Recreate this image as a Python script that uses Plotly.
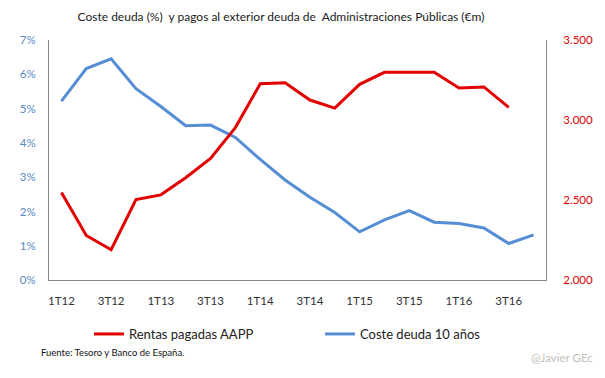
import plotly.graph_objects as go

quarters = ["1T12", "2T12", "3T12", "4T12", "1T13", "2T13", "3T13", "4T13",
            "1T14", "2T14", "3T14", "4T14", "1T15", "2T15", "3T15", "4T15",
            "1T16", "2T16", "3T16", "4T16"]
tick_labels = ["1T12", "3T12", "1T13", "3T13", "1T14", "3T14", "1T15", "3T15", "1T16", "3T16"]

rentas_aapp = [2548, 2279, 2190, 2504, 2533, 2640, 2761, 2953, 3227, 3233,
               3125, 3075, 3223, 3298, 3298, 3298, 3200, 3207, 3079]
coste_deuda_10 = [5.22, 6.17, 6.45, 5.58, 5.06, 4.50, 4.52, 4.16, 3.52, 2.92,
                  2.42, 1.97, 1.41, 1.76, 2.03, 1.69, 1.65, 1.52, 1.07, 1.32]

left_ticks = [0, 1, 2, 3, 4, 5, 6, 7]
left_tick_text = ["0%", "1%", "2%", "3%", "4%", "5%", "6%", "7%"]
right_ticks = [2000, 2500, 3000, 3500]
right_tick_text = ["2.000", "2.500", "3.000", "3.500"]

FONT = "Lato"
RED = "#E30000"
BLUE = "#558ED5"
AXIS = "#878787"

# page body has an 8px margin: figure is offset by (8, 8) in the window
OFF = 8
W, H = 605 - OFF, 378 - OFF
ML, MR, MT, MB = 45 - OFF, 605 - 547, 40 - OFF, 378 - 287
PW, PH = W - ML - MR, H - MT - MB


def px_to_paper(x, y):
    # x, y are window pixel coordinates
    return (x - OFF - ML) / PW, 1 - (y - OFF - MT) / PH


fig = go.Figure()
fig.add_trace(go.Scatter(
    x=quarters[:len(rentas_aapp)], y=rentas_aapp, name="Rentas pagadas AAPP",
    mode="lines", line=dict(color=RED, width=3), yaxis="y2"))
fig.add_trace(go.Scatter(
    x=quarters, y=coste_deuda_10, name="Coste deuda 10 años",
    mode="lines", line=dict(color=BLUE, width=3), yaxis="y"))

sx, sy = px_to_paper(35, 361)
wx, wy = px_to_paper(530, 366)

fig.update_layout(
    width=W, height=H,
    paper_bgcolor="white", plot_bgcolor="white",
    font=dict(family=FONT, size=12, color="#333333"),
    margin=dict(l=ML, r=MR, t=MT, b=MB),
    title=dict(text="Coste deuda (%)  y pagos al exterior deuda de  Administraciones Públicas (€m)",
               x=(281 - OFF) / W, xanchor="center", y=1 - 8.5 / H, yanchor="middle",
               font=dict(family=FONT, size=12, color="#222222")),
    xaxis=dict(type="category", categoryorder="array", categoryarray=quarters,
               range=[-0.5, 19.5], tickvals=tick_labels, ticktext=tick_labels,
               showgrid=False, showline=True, linecolor=AXIS, linewidth=1,
               ticks="", ticklabelstandoff=10,
               tickfont=dict(family=FONT, size=11.5, color="#333333"),
               zeroline=False, fixedrange=True),
    yaxis=dict(range=[0, 7], tickvals=left_ticks, ticktext=left_tick_text,
               showgrid=False, showline=True, linecolor=AXIS, linewidth=1,
               ticks="", ticklabelstandoff=10, zeroline=False,
               tickfont=dict(family=FONT, size=11.5, color="#5B89C6")),
    yaxis2=dict(range=[2000, 3500], tickvals=right_ticks, ticktext=right_tick_text,
                overlaying="y", side="right",
                showgrid=False, showline=True, linecolor=AXIS, linewidth=1,
                ticks="", ticklabelstandoff=14, zeroline=False,
                tickfont=dict(family=FONT, size=11.5, color=RED)),
    legend=dict(orientation="h", xref="container", yref="container",
                x=(89 - OFF) / W, xanchor="left", y=1 - (334 - OFF) / H, yanchor="middle",
                entrywidth=186, entrywidthmode="pixels",
                font=dict(family=FONT, size=13, color="#222222"),
                bgcolor="rgba(0,0,0,0)"),
    showlegend=True,
    annotations=[
        dict(text="Fuente: Tesoro y Banco de España.", xref="paper", yref="paper",
             x=sx, y=sy, xanchor="left", yanchor="middle",
             showarrow=False, font=dict(family=FONT, size=9.5, color="#111111")),
        dict(text="@Javier GEc", xref="paper", yref="paper",
             x=wx, y=wy, xanchor="left", yanchor="middle",
             showarrow=False, font=dict(family=FONT, size=11.5, color="#C4C0B4")),
    ],
)

fig.write_html("out.html")
